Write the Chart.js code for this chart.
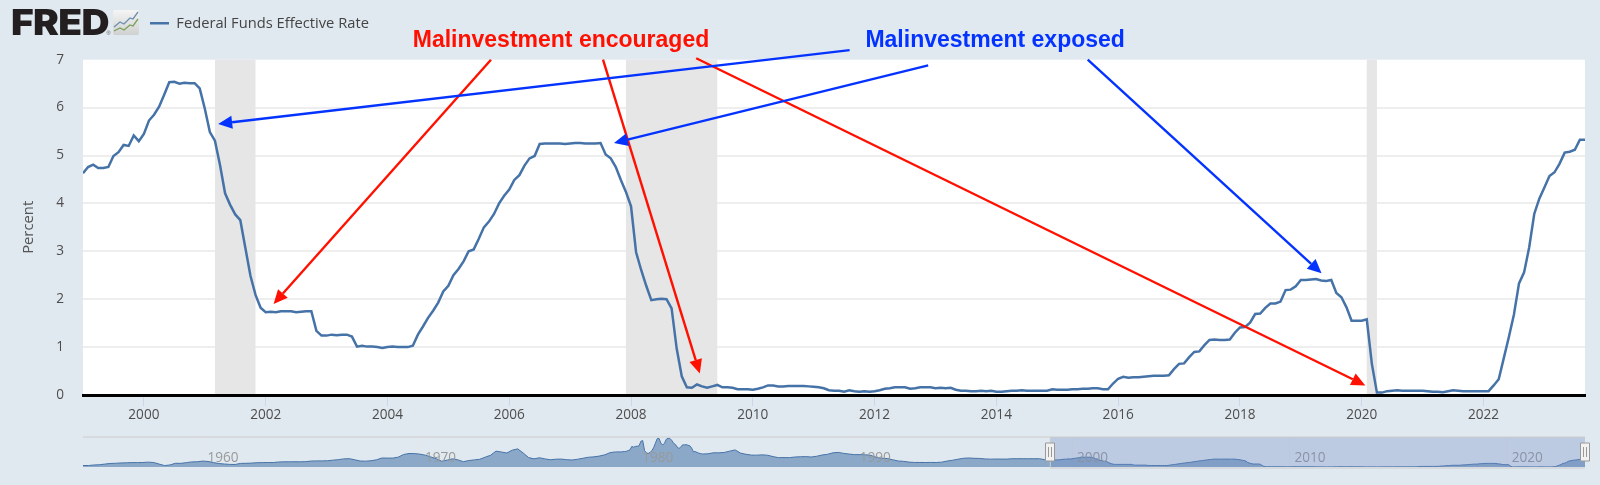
<!DOCTYPE html>
<html>
<head>
<meta charset="utf-8">
<title>Federal Funds Effective Rate</title>
<script src="https://cdn.jsdelivr.net/npm/chart.js@4/dist/chart.umd.min.js"></script>
<style>
    html, body { margin: 0; padding: 0; width: 1600px; height: 485px; overflow: hidden; background: #e1e9f0; }
    canvas { position: absolute; left: 0; }
    #chart { top: 0; }
    #navigator { top: 430px; }
    #logo { position: absolute; left: 11px; top: 1px; font: 900 35px/42px Inter, sans-serif; letter-spacing: -0.6px; color: #231f20; transform: scaleX(1.11); transform-origin: left top; }
    #logo sup { position: absolute; left: 86px; top: 29px; font: 400 5px/6px "Liberation Sans", sans-serif; letter-spacing: 0; color: #555; }
    #icon { position: absolute; left: 113px; top: 10px; }
</style>
</head>
<body>
<canvas id="chart" width="1600" height="430"></canvas>
<canvas id="navigator" width="1600" height="55"></canvas>
<div id="logo">FRED<sup>®</sup></div>
<svg id="icon" width="26" height="25" viewBox="0 0 26 25">
    <defs>
        <linearGradient id="iconBg" x1="0" y1="0" x2="0" y2="1">
            <stop offset="0" stop-color="#f4f5f4"/>
            <stop offset="1" stop-color="#cfd1d0"/>
        </linearGradient>
    </defs>
    <rect width="26" height="25" rx="2" fill="url(#iconBg)"/>
    <polyline points="1,17 7,12 11,14 17,8 20,9 25,2" fill="none" stroke="#6b8fb0" stroke-width="1.3"/>
    <polyline points="1,21 7,18 11,20 17,15 20,16 25,9" fill="none" stroke="#7ba05b" stroke-width="1.3"/>
</svg>

<script>
const seriesName = 'Federal Funds Effective Rate';

// monthly, Jan 1999 to Sep 2023
const startYear = 1999;
const rate = [
    4.63, 4.76, 4.81, 4.74, 4.74, 4.76, 4.99, 5.07, 5.22, 5.20, 5.42, 5.30,
    5.45, 5.73, 5.85, 6.02, 6.27, 6.53, 6.54, 6.50, 6.52, 6.51, 6.51, 6.40,
    5.98, 5.49, 5.31, 4.80, 4.21, 3.97, 3.77, 3.65, 3.07, 2.49, 2.09, 1.82,
    1.73, 1.74, 1.73, 1.75, 1.75, 1.75, 1.73, 1.74, 1.75, 1.75, 1.34, 1.24,
    1.24, 1.26, 1.25, 1.26, 1.26, 1.22, 1.01, 1.03, 1.01, 1.01, 1.00, 0.98,
    1.00, 1.01, 1.00, 1.00, 1.00, 1.03, 1.26, 1.43, 1.61, 1.76, 1.93, 2.16,
    2.28, 2.50, 2.63, 2.79, 3.00, 3.04, 3.26, 3.50, 3.62, 3.78, 4.00, 4.16,
    4.29, 4.49, 4.59, 4.79, 4.94, 4.99, 5.24, 5.25, 5.25, 5.25, 5.25, 5.24,
    5.25, 5.26, 5.26, 5.25, 5.25, 5.25, 5.26, 5.02, 4.94, 4.76, 4.49, 4.24,
    3.94, 2.98, 2.61, 2.28, 1.98, 2.00, 2.01, 2.00, 1.81, 0.97, 0.39, 0.16,
    0.15, 0.22, 0.18, 0.15, 0.18, 0.21, 0.16, 0.16, 0.15, 0.12, 0.12, 0.12,
    0.11, 0.13, 0.16, 0.20, 0.20, 0.18, 0.18, 0.19, 0.19, 0.19, 0.19, 0.18,
    0.17, 0.16, 0.14, 0.10, 0.09, 0.09, 0.07, 0.10, 0.08, 0.07, 0.08, 0.07,
    0.08, 0.10, 0.13, 0.14, 0.16, 0.16, 0.16, 0.13, 0.14, 0.16, 0.16, 0.16,
    0.14, 0.15, 0.14, 0.15, 0.11, 0.09, 0.09, 0.08, 0.08, 0.09, 0.08, 0.09,
    0.07, 0.07, 0.08, 0.09, 0.09, 0.10, 0.09, 0.09, 0.09, 0.09, 0.09, 0.12,
    0.11, 0.11, 0.11, 0.12, 0.12, 0.13, 0.13, 0.14, 0.14, 0.12, 0.12, 0.24,
    0.34, 0.38, 0.36, 0.37, 0.37, 0.38, 0.39, 0.40, 0.40, 0.40, 0.41, 0.54,
    0.65, 0.66, 0.79, 0.90, 0.91, 1.04, 1.15, 1.16, 1.15, 1.15, 1.16, 1.30,
    1.41, 1.42, 1.51, 1.69, 1.70, 1.82, 1.91, 1.91, 1.95, 2.19, 2.20, 2.27,
    2.40, 2.40, 2.41, 2.42, 2.39, 2.38, 2.40, 2.13, 2.04, 1.83, 1.55, 1.55,
    1.55, 1.58, 0.65, 0.05, 0.05, 0.08, 0.09, 0.10, 0.09, 0.09, 0.09, 0.09,
    0.09, 0.08, 0.07, 0.07, 0.06, 0.08, 0.10, 0.09, 0.08, 0.08, 0.08, 0.08,
    0.08, 0.08, 0.20, 0.33, 0.77, 1.21, 1.68, 2.33, 2.56, 3.08, 3.78, 4.10,
    4.33, 4.57, 4.65, 4.83, 5.06, 5.08, 5.12, 5.33, 5.33
];

// navigator history before 1999: quarterly, except monthly around 1980
const navEarlyStart = 1954.5;
const navEarly = [
    1.00, 0.98,
    1.34, 1.50, 1.94, 2.36, 2.48, 2.69, 2.81, 2.93, 2.93, 3.00, 3.23, 3.00,
    1.96, 0.97, 1.34, 2.48, 2.43, 2.90, 3.39, 3.47, 3.93, 3.70, 2.94, 2.30,
    2.00, 1.73, 1.68, 2.40, 2.46, 2.61, 2.85, 2.92, 2.97, 2.96, 3.33, 3.45,
    3.46, 3.49, 3.46, 3.58, 3.97, 4.08, 4.07, 4.17, 4.56, 4.91, 5.41, 5.56,
    4.82, 3.99, 3.89, 4.17, 4.79, 5.98, 5.94, 5.92, 6.57, 8.33, 8.98, 8.94,
    8.57, 7.88, 6.70, 5.57, 3.86, 4.56, 5.47, 4.75, 3.54, 4.30, 4.74, 5.14,
    6.54, 7.82, 10.56, 10.00, 9.32, 11.25, 12.09, 9.35, 6.30, 5.42, 6.16, 5.41,
    4.83, 5.20, 5.28, 4.87, 4.66, 5.16, 5.82, 6.51, 6.76, 7.28, 8.10, 9.58
];
const navVolckerStart = 1979;
const navVolcker = [
    10.07, 10.06, 10.09, 10.01, 10.24, 10.29, 10.47, 10.94, 11.43, 13.77, 13.18, 13.78,
    13.82, 14.13, 17.19, 17.61, 10.98, 9.47, 9.03, 9.61, 10.87, 12.81, 15.85, 18.90,
    19.08, 15.93, 14.70, 15.72, 18.52, 19.10, 19.04, 17.82, 15.87, 15.08, 13.31, 12.37,
    13.22, 14.78, 14.68, 14.94, 14.45, 14.15, 12.59, 10.12, 10.31, 9.71, 9.20, 8.95
];
const navLateStart = 1983;
const navLate = [
    8.65, 8.80, 9.46, 9.43, 9.69, 10.56, 11.39, 9.27, 8.48, 7.92, 7.90, 8.10,
    7.83, 6.92, 6.21, 6.27, 6.22, 6.65, 6.84, 6.92, 6.66, 7.15, 7.98, 8.47,
    9.44, 9.73, 9.08, 8.61, 8.25, 8.24, 8.16, 7.74, 6.43, 5.86, 5.65, 4.82,
    4.02, 3.77, 3.26, 3.04, 3.04, 3.00, 3.06, 2.99, 3.21, 3.94, 4.49, 5.17,
    5.81, 6.02, 5.80, 5.72, 5.36, 5.24, 5.31, 5.28, 5.28, 5.52, 5.53, 5.51,
    5.52, 5.50, 5.53, 4.86
];

const yTicks = [0, 1, 2, 3, 4, 5, 6, 7];
const xTicks = [2000, 2002, 2004, 2006, 2008, 2010, 2012, 2014, 2016, 2018, 2020, 2022];
const navTicks = [1960, 1970, 1980, 1990, 2000, 2010, 2020];

// shaded recessions, in years
const recessionStart = [2001.167, 2007.917, 2020.083];
const recessionEnd = [2001.833, 2009.417, 2020.25];

// annotation anchors in axis units: [tail year, tail percent, head year, head percent]
const encouragedArrows = [
    [2005.70, 7.00, 2002.13, 1.90],
    [2007.54, 7.00, 2009.13, 0.45],
    [2009.07, 7.03, 2020.06, 0.20]
];
const exposedArrows = [
    [2011.59, 7.20, 2001.22, 5.66],
    [2012.88, 6.88, 2007.72, 5.26],
    [2015.50, 7.00, 2019.34, 2.54]
];
const encouragedLabel = { text: 'Malinvestment encouraged', year: 2006.85, percent: 7.39 };
const exposedLabel = { text: 'Malinvestment exposed', year: 2013.98, percent: 7.39 };

const selectedFrom = 1999;

const lineBlue = '#4572a7';
const axisFont = { family: '"Open Sans"', size: 13.6 };
const redInk = '#ff1000';
const blueInk = '#0433ff';

function monthly(values, start) {
    return values.map((v, i) => ({ x: start + i / 12, y: v }));
}

function quarterly(values, start) {
    return values.map((v, i) => ({ x: start + i / 4, y: v }));
}

function drawArrow(ctx, x1, y1, x2, y2, color) {
    const a = Math.atan2(y2 - y1, x2 - x1);
    const len = 14;
    const half = 6.5;
    const bx = x2 - Math.cos(a) * len;
    const by = y2 - Math.sin(a) * len;
    ctx.strokeStyle = color;
    ctx.fillStyle = color;
    ctx.lineWidth = 2.4;
    ctx.beginPath();
    ctx.moveTo(x1, y1);
    ctx.lineTo(bx, by);
    ctx.stroke();
    ctx.beginPath();
    ctx.moveTo(x2, y2);
    ctx.lineTo(bx - Math.sin(a) * half, by + Math.cos(a) * half);
    ctx.lineTo(bx + Math.sin(a) * half, by - Math.cos(a) * half);
    ctx.closePath();
    ctx.fill();
}

// white plot, legend moved next to the logo
const plotBackground = {
    id: 'plotBackground',
    afterLayout(chart) {
        chart.legend.left = 128;
        chart.legend.top = -6;
    },
    beforeDraw(chart) {
        const { ctx, chartArea: a } = chart;
        ctx.fillStyle = '#ffffff';
        ctx.fillRect(a.left, a.top, a.width, a.height);
    }
};

const recessions = {
    id: 'recessions',
    beforeDatasetsDraw(chart) {
        const { ctx, chartArea: a, scales } = chart;
        ctx.fillStyle = '#e6e6e6';
        recessionStart.forEach((s, i) => {
            const left = scales.x.getPixelForValue(s);
            const right = scales.x.getPixelForValue(recessionEnd[i]);
            ctx.fillRect(left, a.top, right - left, a.height);
        });
    }
};

const annotations = {
    id: 'annotations',
    afterDraw(chart) {
        const { ctx, scales } = chart;
        const px = (y) => scales.x.getPixelForValue(y);
        const py = (p) => scales.y.getPixelForValue(p);
        ctx.save();
        encouragedArrows.forEach(r => drawArrow(ctx, px(r[0]), py(r[1]), px(r[2]), py(r[3]), redInk));
        exposedArrows.forEach(r => drawArrow(ctx, px(r[0]), py(r[1]), px(r[2]), py(r[3]), blueInk));
        ctx.font = 'bold 23px "Liberation Sans"';
        ctx.textAlign = 'center';
        ctx.textBaseline = 'middle';
        ctx.fillStyle = redInk;
        ctx.fillText(encouragedLabel.text, px(encouragedLabel.year), py(encouragedLabel.percent));
        ctx.fillStyle = blueInk;
        ctx.fillText(exposedLabel.text, px(exposedLabel.year), py(exposedLabel.percent));
        ctx.restore();
    }
};

new Chart(document.querySelector('#chart'), {
    type: 'line',
    data: {
        datasets: [{
            label: seriesName,
            data: monthly(rate, startYear),
            borderColor: lineBlue,
            backgroundColor: lineBlue,
            borderWidth: 2.5,
            pointRadius: 0,
            tension: 0
        }]
    },
    options: {
        responsive: false,
        animation: false,
        layout: { padding: { right: 15, top: 13 } },
        plugins: {
            tooltip: { enabled: false },
            legend: {
                position: 'top',
                align: 'start',
                labels: {
                    usePointStyle: true,
                    pointStyle: 'line',
                    pointStyleWidth: 19,
                    padding: 22,
                    color: '#444444',
                    font: { family: '"Open Sans"', size: 14.7 }
                }
            }
        },
        scales: {
            x: {
                type: 'linear',
                min: startYear,
                max: 2023.667,
                afterBuildTicks: (s) => { s.ticks = xTicks.map(v => ({ value: v })); },
                afterFit: (s) => { s.height = 35; },
                grid: { drawOnChartArea: false, tickLength: 11, tickColor: '#ccd6eb', tickWidth: 1 },
                border: { color: '#000000', width: 3, z: 1 },
                ticks: {
                    autoSkip: false,
                    maxRotation: 0,
                    padding: 1,
                    color: '#4d4d4d',
                    font: axisFont,
                    callback: (v) => String(v)
                }
            },
            y: {
                min: 0,
                max: 7,
                afterBuildTicks: (s) => { s.ticks = yTicks.map(v => ({ value: v })); },
                afterFit: (s) => { s.width = 83; },
                title: {
                    display: true,
                    text: 'Percent',
                    color: '#555555',
                    font: { family: '"Open Sans"', size: 14.8 },
                    padding: { top: 20, bottom: 0 }
                },
                grid: {
                    drawTicks: false,
                    lineWidth: 2,
                    color: (c) => c.tick && c.tick.value === 7 ? 'rgba(0,0,0,0)' : '#eeeeee'
                },
                border: { display: false },
                ticks: { padding: 19, color: '#4d4d4d', font: axisFont }
            }
        }
    },
    plugins: [plotBackground, recessions, annotations]
});

// range selector: outline, mask and the two handles
const selector = {
    id: 'selector',
    afterDraw(chart) {
        const { ctx, chartArea: a, scales } = chart;
        const left = scales.x.getPixelForValue(selectedFrom);
        ctx.save();
        ctx.fillStyle = 'rgba(102,133,194,0.3)';
        ctx.fillRect(left, a.top, a.right - left, a.height);
        ctx.strokeStyle = '#cccccc';
        ctx.lineWidth = 1;
        ctx.beginPath();
        ctx.moveTo(a.left, a.top);
        ctx.lineTo(a.right, a.top);
        ctx.moveTo(left, a.top);
        ctx.lineTo(left, a.bottom + 1);
        ctx.lineTo(a.right, a.bottom + 1);
        ctx.stroke();
        [left, a.right].forEach(x => {
            const cy = (a.top + a.bottom) / 2;
            ctx.fillStyle = '#f2f2f2';
            ctx.strokeStyle = '#999999';
            ctx.beginPath();
            ctx.rect(Math.round(x) - 4.5, cy - 9, 9, 18);
            ctx.fill();
            ctx.stroke();
            ctx.beginPath();
            ctx.moveTo(Math.round(x) - 1.5, cy - 5);
            ctx.lineTo(Math.round(x) - 1.5, cy + 5);
            ctx.moveTo(Math.round(x) + 1.5, cy - 5);
            ctx.lineTo(Math.round(x) + 1.5, cy + 5);
            ctx.stroke();
        });
        ctx.restore();
    }
};

new Chart(document.querySelector('#navigator'), {
    type: 'line',
    data: {
        datasets: [{
            label: seriesName,
            data: [
                ...quarterly(navEarly, navEarlyStart),
                ...monthly(navVolcker, navVolckerStart),
                ...quarterly(navLate, navLateStart),
                ...monthly(rate, startYear)
            ],
            borderColor: lineBlue,
            backgroundColor: 'rgba(69,114,167,0.55)',
            borderWidth: 1,
            pointRadius: 0,
            fill: 'origin',
            tension: 0
        }]
    },
    options: {
        responsive: false,
        animation: false,
        layout: { padding: { left: 83, right: 15, top: 7 } },
        plugins: { legend: { display: false }, tooltip: { enabled: false } },
        scales: {
            x: {
                type: 'linear',
                min: navEarlyStart,
                max: 2023.6,
                afterBuildTicks: (s) => { s.ticks = navTicks.map(v => ({ value: v })); },
                afterFit: (s) => { s.height = 18; },
                grid: { drawTicks: false, color: '#e6e6e6' },
                border: { display: false },
                ticks: {
                    z: 1,
                    mirror: true,
                    align: 'start',
                    labelOffset: 5,
                    padding: 1,
                    autoSkip: false,
                    maxRotation: 0,
                    color: '#999999',
                    font: axisFont,
                    callback: (v) => String(v)
                }
            },
            y: { display: false, min: 0, max: 20 }
        }
    },
    plugins: [selector]
});
</script>
</body>
</html>
